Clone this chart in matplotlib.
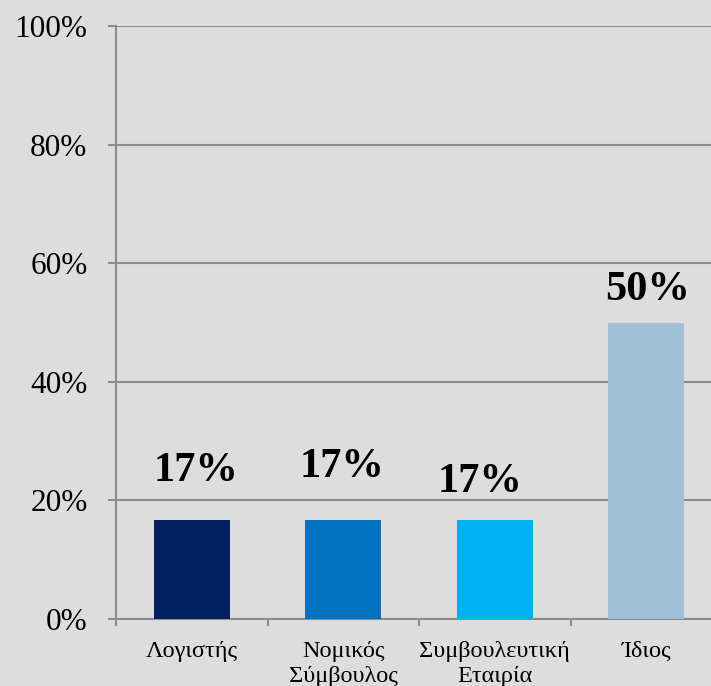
import matplotlib
matplotlib.use("Agg")
import matplotlib.pyplot as plt
from matplotlib.ticker import FuncFormatter, MultipleLocator

categories = ["Λογιστής", "Νομικός\nΣύμβουλος", "Συμβουλευτική\nΕταιρία", "Ίδιος"]
values = [16.67, 16.67, 16.67, 50.0]
value_labels = ["17%", "17%", "17%", "50%"]
colors = ["#002060", "#0070C0", "#00B0F0", "#A0C0D7"]
# label offsets (pixels) relative to bar top-center, as placed in the original
label_dx = [4, -1, -15, 1]
label_dy = [39, 43, 28, 22]

W, H = 711, 686
dpi = 100
bg = "#DDDDDD"
grid_c = "#8C8C8C"

plt.rcParams["font.family"] = ["Liberation Serif", "DejaVu Serif"]

fig = plt.figure(figsize=(W / dpi, H / dpi), dpi=dpi, facecolor=bg)
ax = fig.add_axes([116 / W, (H - 619) / H, 606 / W, 593 / H], facecolor=bg)

x = list(range(len(categories)))
ax.bar(x, values, width=0.5, color=colors, zorder=3)

ax.set_xlim(-0.5, 3.5)
ax.set_ylim(0, 100)
ax.yaxis.set_major_locator(MultipleLocator(20))
ax.yaxis.set_major_formatter(FuncFormatter(lambda v, p: f"{v:.0f}%"))
ax.grid(axis="y", color=grid_c, linewidth=1.5, zorder=0)
ax.set_axisbelow(True)

for s in ["top", "right"]:
    ax.spines[s].set_visible(False)
for s in ["left", "bottom"]:
    ax.spines[s].set_color(grid_c)
    ax.spines[s].set_linewidth(1.5)

ax.set_xticks([-0.5, 0.5, 1.5, 2.5, 3.5])
ax.set_xticklabels([])
ax.set_xticks(x, minor=True)
ax.set_xticklabels(categories, minor=True, fontsize=17.5, linespacing=1.22)
ax.tick_params(axis="x", which="major", length=5, width=1.5, color=grid_c)
ax.tick_params(axis="x", which="minor", length=0, pad=16)
ax.tick_params(axis="y", length=6, width=1.5, color=grid_c, labelsize=22.5, pad=14.5)

pt = 72 / dpi
for xi, v, lab, dx, dy in zip(x, values, value_labels, label_dx, label_dy):
    ax.annotate(lab, (xi, v), xytext=(dx * pt, dy * pt), textcoords="offset points",
                ha="center", va="baseline", fontsize=30.5, fontweight="bold", zorder=4)

fig.savefig("out.png", dpi=dpi, facecolor=bg)
